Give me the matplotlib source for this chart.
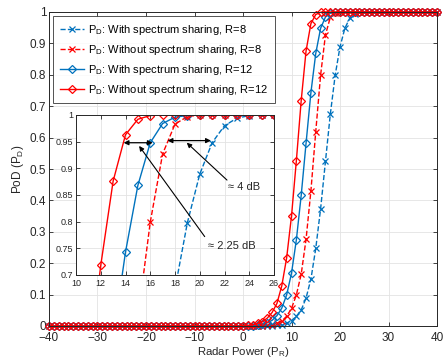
"""
Probability of detection vs radar power, with zoomed inset
Output: out.png
"""
import numpy as np
import matplotlib
matplotlib.use("Agg")
import matplotlib.pyplot as plt

plt.rcParams["font.family"] = ["Liberation Sans", "DejaVu Sans"]
plt.rcParams["mathtext.fontset"] = "custom"
plt.rcParams["mathtext.rm"] = "Liberation Sans"
plt.rcParams["mathtext.it"] = "Liberation Sans"

# Radar power grid (dB)
power = list(range(-40, 41))

# values, -40 .. -1 dB are all ~0
below_zero = [0.0] * 40

# P_D with spectrum sharing, R=8 (0 .. 40 dB)
pd_ws_r8 = below_zero + [
    0.0, 0.0, 0.0, 0.0001, 0.0002, 0.0005, 0.001, 0.002, 0.004, 0.009,
    0.017, 0.031, 0.051, 0.089, 0.149, 0.247, 0.373, 0.524, 0.674, 0.798,
    0.889, 0.948, 0.980, 0.994, 0.999, 1.0, 1.0, 1.0, 1.0, 1.0,
    1.0, 1.0, 1.0, 1.0, 1.0, 1.0, 1.0, 1.0, 1.0, 1.0, 1.0]

# P_D without spectrum sharing, R=8
pd_wo_r8 = below_zero + [
    0.0, 0.0001, 0.0002, 0.0005, 0.001, 0.002, 0.004, 0.008, 0.016, 0.031,
    0.056, 0.099, 0.165, 0.276, 0.430, 0.619, 0.799, 0.927, 0.983, 0.997,
    1.0, 1.0, 1.0, 1.0, 1.0, 1.0, 1.0, 1.0, 1.0, 1.0,
    1.0, 1.0, 1.0, 1.0, 1.0, 1.0, 1.0, 1.0, 1.0, 1.0, 1.0]

# P_D with spectrum sharing, R=12
pd_ws_r12 = below_zero + [
    0.0003, 0.0007, 0.0015, 0.003, 0.005, 0.010, 0.018, 0.033, 0.057, 0.099,
    0.168, 0.274, 0.416, 0.582, 0.743, 0.868, 0.948, 0.984, 0.996, 0.999,
    1.0, 1.0, 1.0, 1.0, 1.0, 1.0, 1.0, 1.0, 1.0, 1.0,
    1.0, 1.0, 1.0, 1.0, 1.0, 1.0, 1.0, 1.0, 1.0, 1.0, 1.0]

# P_D without spectrum sharing, R=12
pd_wo_r12 = below_zero + [
    0.001, 0.002, 0.004, 0.008, 0.014, 0.025, 0.043, 0.072, 0.128, 0.217,
    0.350, 0.526, 0.718, 0.876, 0.963, 0.992, 0.999, 1.0, 1.0, 1.0,
    1.0, 1.0, 1.0, 1.0, 1.0, 1.0, 1.0, 1.0, 1.0, 1.0,
    1.0, 1.0, 1.0, 1.0, 1.0, 1.0, 1.0, 1.0, 1.0, 1.0, 1.0]

labels = [
    "P$_D$: With spectrum sharing, R=8",
    "P$_D$: Without spectrum sharing, R=8",
    "P$_D$: With spectrum sharing, R=12",
    "P$_D$: Without spectrum sharing, R=12",
]

blue = "#0072BD"
red = "#FF0000"
styles = [
    dict(color=blue, ls="--", marker="x", ms=4, mew=0.9),
    dict(color=red, ls="--", marker="x", ms=4, mew=0.9),
    dict(color=blue, ls="-", marker="D", ms=4.5, mfc="none", mew=0.9),
    dict(color=red, ls="-", marker="D", ms=4.5, mfc="none", mew=0.9),
]
series = [pd_ws_r8, pd_wo_r8, pd_ws_r12, pd_wo_r12]

axis_col = "#262626"


def style_axes(ax, fs, xpad=3):
    ax.grid(True, color="#e3e3e3", lw=0.6)
    ax.set_axisbelow(True)
    ax.tick_params(direction="in", top=True, right=True, length=3,
                   width=0.6, labelsize=fs, colors=axis_col)
    ax.tick_params(axis="x", pad=xpad)
    ax.tick_params(axis="y", pad=2)
    for s in ax.spines.values():
        s.set_color(axis_col)
        s.set_linewidth(0.7)


fig = plt.figure(figsize=(4.48, 3.6), dpi=100)

# main plot
ax = fig.add_axes([49 / 448, 34 / 360, 388 / 448, 314 / 360])
for y, lab, st in zip(series, labels, styles):
    ax.plot(power, y, lw=1.0, label=lab, clip_on=False, **st)

ax.set_xlim(-40, 40)
ax.set_ylim(0, 1)
ax.set_xticks(range(-40, 41, 10))
ax.set_yticks(np.arange(0, 1.01, 0.1))
ax.set_yticklabels(["0", "0.1", "0.2", "0.3", "0.4", "0.5",
                    "0.6", "0.7", "0.8", "0.9", "1"])
style_axes(ax, 8.5, xpad=4.5)
ax.set_xlabel("Radar Power (P$_R$)", fontsize=8.2, color=axis_col, labelpad=0.5)
ax.set_ylabel("PoD (P$_D$)", fontsize=8.5, color=axis_col, labelpad=3)

leg = ax.legend(loc="upper left", fontsize=8, frameon=True, fancybox=False,
                borderaxespad=0.4, handlelength=2.2, handletextpad=0.4,
                labelspacing=0.55, borderpad=0.55)
leg.get_frame().set_edgecolor(axis_col)
leg.get_frame().set_linewidth(0.7)
leg.set_zorder(5)

# zoomed inset
ins = fig.add_axes([76 / 448, 85 / 360, 198 / 448, 160 / 360])
ins.set_facecolor("white")
for y, st in zip(series, styles):
    ins.plot(power, y, lw=1.0, **st)
ins.set_xlim(10, 26)
ins.set_ylim(0.7, 1)
ins.set_xticks(range(10, 27, 2))
ins.set_yticks([0.7, 0.75, 0.8, 0.85, 0.9, 0.95, 1.0])
ins.set_yticklabels(["0.7", "0.75", "0.8", "0.85", "0.9", "0.95", "1"])
style_axes(ins, 6.5)

# double arrows marking the gaps
arrow = dict(arrowstyle="<|-|>", color="black", lw=0.9,
             mutation_scale=7, shrinkA=0, shrinkB=0)
ins.annotate("", xy=(13.85, 0.948), xytext=(16.2, 0.948), arrowprops=arrow)
ins.annotate("", xy=(17.4, 0.952), xytext=(20.9, 0.952), arrowprops=arrow)

pointer = dict(arrowstyle="-|>", color="black", lw=0.8,
               mutation_scale=7, shrinkA=0, shrinkB=0)
ins.annotate("", xy=(18.95, 0.948), xytext=(22.2, 0.878), arrowprops=pointer)
ins.annotate("", xy=(15.1, 0.942), xytext=(20.4, 0.772), arrowprops=pointer)
ins.text(22.3, 0.865, "≈ 4 dB", fontsize=8, color=axis_col, va="center")
ins.text(20.7, 0.755, "≈ 2.25 dB", fontsize=8, color=axis_col, va="center")

fig.savefig("out.png", dpi=100)
